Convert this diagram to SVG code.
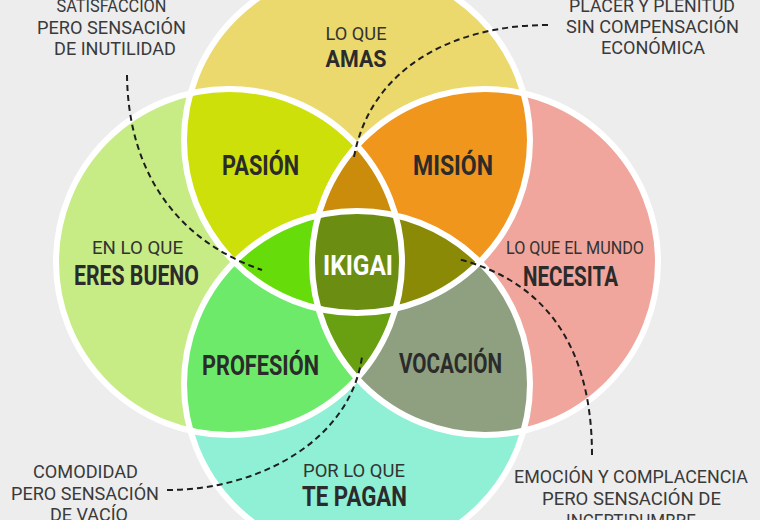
<svg xmlns="http://www.w3.org/2000/svg" width="760" height="520" viewBox="0 0 760 520">
<style>
.lbl{font-family:Roboto,"Liberation Sans",sans-serif;font-weight:700;font-size:27px;fill:#2b2b2b;text-anchor:middle}
.sub{font-family:Roboto,"Liberation Sans",sans-serif;font-weight:400;font-size:19px;fill:#333;text-anchor:middle}
.ann{font-family:Roboto,"Liberation Sans",sans-serif;font-weight:400;font-size:19px;fill:#3a3a3a;text-anchor:middle}
.ring{fill:none;stroke:#fff;stroke-width:6}
.dash{fill:none;stroke:#1e1e1e;stroke-width:2;stroke-dasharray:6,4}
</style>
<defs>
<circle id="T" cx="357" cy="140" r="173"/>
<circle id="B" cx="357" cy="384" r="173"/>
<circle id="L" cx="229" cy="262" r="173"/>
<circle id="R" cx="485" cy="262" r="173"/>
<clipPath id="cT"><use href="#T"/></clipPath>
<clipPath id="cB"><use href="#B"/></clipPath>
<clipPath id="cL"><use href="#L"/></clipPath>
<clipPath id="cR"><use href="#R"/></clipPath>
</defs>
<rect width="760" height="520" fill="#ededed"/>
<g id="circles">
<use href="#T" fill="#ebd96d"/>
<use href="#L" fill="#c7ec86"/>
<use href="#R" fill="#f0a69c"/>
<use href="#B" fill="#8ff0d5"/>
</g>
<g id="pairs">
<g clip-path="url(#cT)"><use href="#L" fill="#cde00a"/></g>
<g clip-path="url(#cT)"><use href="#R" fill="#f0961d"/></g>
<g clip-path="url(#cB)"><use href="#L" fill="#6eea6a"/></g>
<g clip-path="url(#cB)"><use href="#R" fill="#8fa080"/></g>
</g>
<g id="triples">
<g clip-path="url(#cT)"><g clip-path="url(#cL)"><use href="#R" fill="#cb8c0c"/></g></g>
<g clip-path="url(#cT)"><g clip-path="url(#cL)"><use href="#B" fill="#66dd0a"/></g></g>
<g clip-path="url(#cT)"><g clip-path="url(#cR)"><use href="#B" fill="#8a8a06"/></g></g>
<g clip-path="url(#cL)"><g clip-path="url(#cR)"><use href="#B" fill="#68a012"/></g></g>
</g>
<g id="center">
<g clip-path="url(#cT)"><g clip-path="url(#cL)"><g clip-path="url(#cR)"><use href="#B" fill="#6b8e12"/></g></g></g>
</g>
<g id="rings">
<use href="#T" class="ring"/>
<use href="#L" class="ring"/>
<use href="#R" class="ring"/>
<use href="#B" class="ring"/>
</g>
<g id="connectors">
<path class="dash" d="M127,75 C128,170 175,240 262,270"/>
<path class="dash" d="M548,25 C450,25 370,70 354,157"/>
<path class="dash" d="M167,490 C260,490 350,440 362,357"/>
<path class="dash" d="M592,455 C592,340 540,280 458,259"/>
</g>
<g id="node-amas">
<text class="sub" x="356" y="40" textLength="61" lengthAdjust="spacingAndGlyphs">LO QUE</text>
<text class="lbl" x="356" y="67" textLength="61" lengthAdjust="spacingAndGlyphs" style="font-size:24px">AMAS</text>
</g>
<g id="node-bueno">
<text class="sub" x="137.5" y="254" textLength="91" lengthAdjust="spacingAndGlyphs">EN LO QUE</text>
<text class="lbl" x="136.5" y="285" textLength="125" lengthAdjust="spacingAndGlyphs">ERES BUENO</text>
</g>
<g id="node-necesita">
<text class="sub" x="575" y="254" textLength="138" lengthAdjust="spacingAndGlyphs">LO QUE EL MUNDO</text>
<text class="lbl" x="570.5" y="286" textLength="95" lengthAdjust="spacingAndGlyphs">NECESITA</text>
</g>
<g id="node-pagan">
<text class="sub" x="354" y="477" textLength="102" lengthAdjust="spacingAndGlyphs">POR LO QUE</text>
<text class="lbl" x="354.5" y="506" textLength="105" lengthAdjust="spacingAndGlyphs">TE PAGAN</text>
</g>
<g id="node-pasion"><text class="lbl" x="260.5" y="175" textLength="77" lengthAdjust="spacingAndGlyphs">PASIÓN</text></g>
<g id="node-mision"><text class="lbl" x="453" y="175" textLength="80" lengthAdjust="spacingAndGlyphs">MISIÓN</text></g>
<g id="node-profesion"><text class="lbl" x="260.5" y="375" textLength="117" lengthAdjust="spacingAndGlyphs">PROFESIÓN</text></g>
<g id="node-vocacion"><text class="lbl" x="450.5" y="373" textLength="103" lengthAdjust="spacingAndGlyphs">VOCACIÓN</text></g>
<g id="node-ikigai"><text class="lbl" x="358" y="275" textLength="70" lengthAdjust="spacingAndGlyphs" style="fill:#fff">IKIGAI</text></g>
<g id="note-inutilidad">
<text class="ann" x="111.5" y="12" textLength="110" lengthAdjust="spacingAndGlyphs">SATISFACCIÓN</text>
<text class="ann" x="111.5" y="34" textLength="149" lengthAdjust="spacingAndGlyphs">PERO SENSACIÓN</text>
<text class="ann" x="115" y="55" textLength="122" lengthAdjust="spacingAndGlyphs">DE INUTILIDAD</text>
</g>
<g id="note-economica">
<text class="ann" x="652" y="12" textLength="166" lengthAdjust="spacingAndGlyphs">PLACER Y PLENITUD</text>
<text class="ann" x="652.5" y="33" textLength="173" lengthAdjust="spacingAndGlyphs">SIN COMPENSACIÓN</text>
<text class="ann" x="653" y="54" textLength="104" lengthAdjust="spacingAndGlyphs">ECONÓMICA</text>
</g>
<g id="note-vacio">
<text class="ann" x="85.5" y="478" textLength="105" lengthAdjust="spacingAndGlyphs">COMODIDAD</text>
<text class="ann" x="85" y="500" textLength="148" lengthAdjust="spacingAndGlyphs">PERO SENSACIÓN</text>
<text class="ann" x="89" y="521" textLength="78" lengthAdjust="spacingAndGlyphs">DE VACÍO</text>
</g>
<g id="note-incertidumbre">
<text class="ann" x="631" y="483" textLength="234" lengthAdjust="spacingAndGlyphs">EMOCIÓN Y COMPLACENCIA</text>
<text class="ann" x="631.5" y="505" textLength="179" lengthAdjust="spacingAndGlyphs">PERO SENSACIÓN DE</text>
<text class="ann" x="631" y="527" textLength="130" lengthAdjust="spacingAndGlyphs">INCERTIDUMBRE</text>
</g>
</svg>
